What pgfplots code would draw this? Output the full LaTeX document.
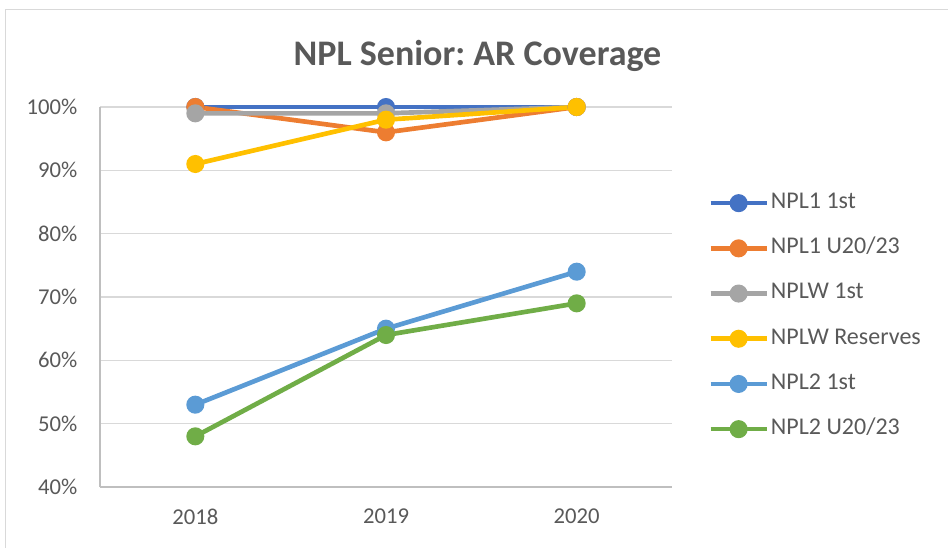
\documentclass[border=0pt]{standalone}
\usepackage{pgfplots}
\pgfplotsset{compat=1.18}
\usepackage{fontspec}
\setmainfont{Carlito}
\frenchspacing
\definecolor{cA}{HTML}{4472C4}
\definecolor{cB}{HTML}{ED7D31}
\definecolor{cC}{HTML}{A5A5A5}
\definecolor{cD}{HTML}{FFC000}
\definecolor{cE}{HTML}{5B9BD5}
\definecolor{cF}{HTML}{70AD47}
\definecolor{txt}{HTML}{595959}
\definecolor{gridc}{HTML}{D9D9D9}
\definecolor{axl}{HTML}{BFBFBF}
\begin{document}
\begin{tikzpicture}
\path[use as bounding box] (-75pt,-45pt) rectangle (636pt,365.25pt);
\draw[gridc, line width=1.1pt] (-70.9pt,-46pt) -- (-70.9pt,358.1pt) -- (637pt,358.1pt);
\node[txt, anchor=base, font=\fontsize{27}{32}\selectfont\bfseries] at (283.1pt,315.75pt) {NPL Senior: AR Coverage};
\begin{axis}[
  at={(0pt,0pt)}, anchor=south west,
  scale only axis, width=429pt, height=285pt,
  xmin=-0.5, xmax=2.5, ymin=40, ymax=100,
  xtick={0,1,2}, xticklabels={2018,2019,2020},
  ytick={40,50,...,100},
  yticklabel={\pgfmathprintnumber{\tick}\%},
  /pgf/number format/assume math mode=true,
  ymajorgrids, xmajorgrids=false, grid style={gridc, line width=1.1pt},
  major tick length=0pt,
  axis x line*=bottom, axis y line*=left,
  axis line style={axl, line width=1.1pt, -},
  tick label style={txt, font=\fontsize{17}{20}\selectfont},
  yticklabel style={xshift=-13.5pt},
  xticklabel style={yshift=-13pt},
  clip=false,
  every axis plot/.append style={line width=3.5pt, mark=*, mark size=5pt},
  legend style={at={(1.063,0.781)}, anchor=north west, draw=none, fill=none,
    font=\fontsize{18}{21}\selectfont, text=txt, row sep=14.9pt, inner sep=0pt,
    nodes={inner sep=1.5pt, text height=12pt, text depth=4pt}},
  legend cell align=left,
  legend image code/.code={\draw[#1,mark repeat=2,mark phase=2] plot coordinates {(0pt,0pt) (21pt,0pt) (42pt,0pt)};},
]
\addplot[cA, mark options={fill=cA}] coordinates {(0,100) (1,100) (2,100)};
\addlegendentry{NPL1 1st}
\addplot[cB, mark options={fill=cB}] coordinates {(0,100) (1,96) (2,100)};
\addlegendentry{NPL1 U20/23}
\addplot[cC, mark options={fill=cC}] coordinates {(0,99) (1,99) (2,100)};
\addlegendentry{NPLW 1st}
\addplot[cD, mark options={fill=cD}] coordinates {(0,91) (1,98) (2,100)};
\addlegendentry{NPLW Reserves}
\addplot[cE, mark options={fill=cE}] coordinates {(0,53) (1,65) (2,74)};
\addlegendentry{NPL2 1st}
\addplot[cF, mark options={fill=cF}] coordinates {(0,48) (1,64) (2,69)};
\addlegendentry{NPL2 U20/23}
\end{axis}
\end{tikzpicture}
\end{document}
